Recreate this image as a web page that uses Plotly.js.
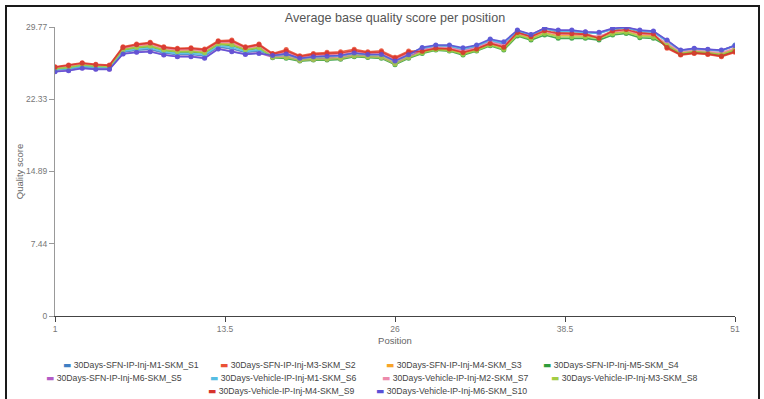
<!DOCTYPE html>
<html><head><meta charset="utf-8">
<script src="https://cdn.plot.ly/plotly-3.0.1.min.js"></script>
<style>
html,body{margin:0;padding:0;background:#fff;}
#chart{position:absolute;left:0;top:0;width:764px;height:399px;}
#frame{position:absolute;left:5px;top:5px;width:751px;height:400px;border-left:2px solid #1a1a1a;border-top:2px solid #1a1a1a;border-right:2px solid #1a1a1a;pointer-events:none;}
</style></head><body>
<div id="chart"></div><div id="frame"></div>
<script>
const positions = [1,2,3,4,5,6,7,8,9,10,11,12,13,14,15,16,17,18,19,20,21,22,23,24,25,26,27,28,29,30,31,32,33,34,35,36,37,38,39,40,41,42,43,44,45,46,47,48,49,50,51];

const seriesNames = [
  "30Days-SFN-IP-Inj-M1-SKM_S1","30Days-SFN-IP-Inj-M3-SKM_S2","30Days-SFN-IP-Inj-M4-SKM_S3","30Days-SFN-IP-Inj-M5-SKM_S4",
  "30Days-SFN-IP-Inj-M6-SKM_S5","30Days-Vehicle-IP-Inj-M1-SKM_S6","30Days-Vehicle-IP-Inj-M2-SKM_S7","30Days-Vehicle-IP-Inj-M3-SKM_S8",
  "30Days-Vehicle-IP-Inj-M4-SKM_S9","30Days-Vehicle-IP-Inj-M6-SKM_S10"
];

const s1 = [25.29,25.41,25.66,25.54,25.52, 27.17,27.37,27.46,27.09,26.92, 26.93,26.78,27.71,27.52,27.15,27.29, 26.87,27.09,26.59,26.77,26.84,26.91, 27.16,26.99,27.01,26.35,26.99, 27.61,27.86,27.85,27.56,27.85,28.46,28.16, 29.39,28.95,29.62,29.37,29.37,29.21, 29.14,29.56,29.70,29.37,29.28, 28.34,27.34,27.52,27.42,27.32,27.91];
const s2 = [25.67,25.85,26.09,25.92,25.85, 27.73,28.01,28.19,27.73,27.57, 27.63,27.50,28.35,28.42,27.73,28.01, 27.05,27.45,26.81,27.05,27.16,27.22, 27.47,27.22,27.32,26.65,27.29, 27.33,27.62,27.57,27.22,27.57,28.15,27.78, 29.27,28.83,29.69,29.20,29.18,29.08, 28.66,29.42,29.77,29.21,29.13, 27.57,26.88,27.05,26.95,26.70,27.16];
const s3 = [25.53,25.68,25.93,25.78,25.73, 27.52,27.77,27.92,27.49,27.33, 27.37,27.23,28.11,28.08,27.51,27.74, 26.76,26.86,26.45,26.60,26.64,26.71, 26.97,26.84,26.81,26.16,26.80, 27.21,27.52,27.45,27.07,27.45,28.01,27.61, 29.05,28.63,29.20,28.90,28.90,28.84, 28.70,29.18,29.34,28.94,28.86, 27.95,27.11,27.28,27.18,27.01,27.50];
const s4 = [25.44,25.58,25.83,25.69,25.65, 27.39,27.63,27.75,27.35,27.18, 27.21,27.07,27.97,27.88,27.38,27.58, 26.60,26.54,26.26,26.36,26.36,26.44, 26.70,26.64,26.54,25.89,26.54, 27.05,27.39,27.29,26.88,27.29,27.84,27.39, 28.84,28.42,28.94,28.60,28.60,28.60, 28.42,28.94,29.11,28.66,28.60, 27.78,27.01,27.18,27.08,26.87,27.35];
const s5 = [25.19,25.29,25.54,25.44,25.43, 27.02,27.20,27.27,26.92,26.74, 26.75,26.59,27.54,27.28,26.99,27.10, 26.67,26.68,26.34,26.46,26.48,26.56, 26.82,26.73,26.66,26.00,26.65, 27.48,27.75,27.72,27.41,27.72,28.32,27.99, 29.42,28.98,29.65,29.41,29.41,29.25, 29.18,29.60,29.74,29.41,29.31, 28.38,27.36,27.54,27.44,27.36,27.87];
const s6 = [25.36,25.50,25.74,25.61,25.59, 27.28,27.50,27.61,27.22,27.05, 27.07,26.92,27.84,27.70,27.26,27.43, 26.80,26.95,26.51,26.67,26.72,26.79, 27.05,26.90,26.89,26.23,26.88, 27.55,27.81,27.79,27.48,27.79,28.39,28.08, 29.36,28.92,29.58,29.32,29.32,29.18, 29.10,29.53,29.67,29.33,29.24, 28.29,27.31,27.49,27.39,27.29,27.86];
const s7 = [25.57,25.73,25.97,25.82,25.76, 27.58,27.84,28.00,27.56,27.40, 27.44,27.31,28.18,28.18,27.57,27.82, 26.92,27.18,26.65,26.84,26.92,26.99, 27.24,27.05,27.09,26.42,27.07, 27.39,27.68,27.63,27.29,27.63,28.22,27.86, 29.15,28.72,29.32,29.03,29.03,28.94, 28.82,29.29,29.44,29.06,28.98, 28.08,27.19,27.36,27.26,27.11,27.61];
const s8 = [25.47,25.61,25.86,25.72,25.67, 27.43,27.67,27.80,27.39,27.22, 27.26,27.12,28.01,27.94,27.42,27.63, 26.65,26.63,26.32,26.43,26.44,26.52, 26.78,26.70,26.62,25.97,26.62, 27.11,27.44,27.35,26.96,27.35,27.91,27.48, 28.96,28.54,29.09,28.77,28.77,28.74, 28.58,29.08,29.24,28.82,28.75, 27.87,27.06,27.23,27.13,26.94,27.42];
const s9 = [25.63,25.80,26.04,25.88,25.81, 27.67,27.94,28.11,27.66,27.50, 27.56,27.42,28.28,28.32,27.67,27.93, 26.98,27.31,26.73,26.95,27.04,27.10, 27.35,27.13,27.20,26.54,27.18, 27.27,27.57,27.51,27.14,27.51,28.08,27.69, 29.21,28.77,29.39,29.11,29.08,29.01, 28.62,29.35,29.51,29.13,29.05, 27.66,26.93,27.10,27.00,26.77,27.24];
const s10 = [25.16,25.26,25.51,25.41,25.41, 26.98,27.16,27.22,26.88,26.70, 26.70,26.54,27.50,27.22,26.95,27.05, 26.83,27.00,26.54,26.71,26.76,26.83, 27.09,26.93,26.93,26.27,26.92, 27.67,27.91,27.91,27.63,27.91,28.53,28.25, 29.45,29.01,29.65,29.45,29.45,29.28, 29.22,29.63,29.74,29.45,29.35, 28.42,27.39,27.57,27.47,27.39,27.84];

const xTickVals = [1, 13.5, 26, 38.5, 51];
const xTickText = ["1", "13.5", "26", "38.5", "51"];
const yTickVals = [0, 7.44, 14.89, 22.33, 29.77];
const yTickText = ["0", "7.44", "14.89", "22.33", "29.77"];

const colors = ["#3f7fc4","#ea5136","#f7a428","#2f9d3c","#b35bc6","#55bde3","#ec8aab","#a3cd44","#d7322b","#5a50d6"];
const allSeries = [s1,s2,s3,s4,s5,s6,s7,s8,s9,s10];

// legend placement (px): left edge of colour dash, and row centre
const legendLeftPx = [63, 220, 386, 543, 46, 210, 382, 551, 208, 376];
const legendRowPx  = [365, 365, 365, 365, 378, 378, 378, 378, 391, 391];

const fontFam = "Liberation Sans, Arial, sans-serif";
const traces = [];
allSeries.forEach((ys, i) => {
  traces.push({
    x: positions, y: ys, type: "scatter", mode: "lines+markers",
    name: seriesNames[i], showlegend: false, opacity: 0.88,
    line: {color: colors[i], width: 1.6},
    marker: {color: colors[i], size: 5},
    hoverinfo: "skip"
  });
});
const legendIds = allSeries.map((_, i) => i === 0 ? "legend" : "legend" + (i + 1));
allSeries.forEach((ys, i) => {
  traces.push({
    x: [null], y: [null], type: "scatter", mode: "markers",
    name: '<span style="color:' + colors[i] + ';font-family:DejaVu Sans">\u25AC</span> ' + seriesNames[i],
    legend: legendIds[i], showlegend: true,
    marker: {size: 2, color: "rgba(0,0,0,0)", line: {width: 0}}
  });
});

const layout = {
  width: 764, height: 399,
  margin: {l: 55, r: 29, t: 27, b: 83},
  paper_bgcolor: "#fff", plot_bgcolor: "#fff",
  font: {family: fontFam, color: "#666"},
  title: {text: "Average base quality score per position", xref: "paper", x: 0.5, xanchor: "center",
          yref: "container", y: 0.957, yanchor: "middle",
          font: {family: fontFam, size: 12.6, color: "#555"}},
  xaxis: {
    range: [1, 51], tickvals: xTickVals, ticktext: xTickText,
    showgrid: false, zeroline: false, showline: true, linecolor: "#444", linewidth: 1,
    ticks: "outside", ticklen: 5, tickcolor: "#444",
    tickfont: {family: fontFam, size: 8.5, color: "#777"},
    title: {text: "Position", font: {family: fontFam, size: 9.5, color: "#666"}, standoff: 4}
  },
  yaxis: {
    range: [0, 29.77], tickvals: yTickVals, ticktext: yTickText,
    showgrid: false, zeroline: false, showline: true, linecolor: "#999", linewidth: 1,
    ticks: "outside", ticklen: 5, tickcolor: "#999",
    tickfont: {family: fontFam, size: 8.5, color: "#777"},
    title: {text: "Quality score", font: {family: fontFam, size: 9.5, color: "#666"}, standoff: 0}
  },
  showlegend: true
};
legendIds.forEach((id, i) => {
  layout[id] = {
    orientation: "h", xref: "container", yref: "container",
    x: (legendLeftPx[i] - 40) / 764, xanchor: "left",
    y: 1 - legendRowPx[i] / 399, yanchor: "middle",
    font: {family: fontFam, size: 8.7, color: "#444"},
    bgcolor: "rgba(0,0,0,0)", itemclick: false
  };
});

Plotly.newPlot("chart", traces, layout, {displayModeBar: false, staticPlot: true});
</script>
</body></html>
